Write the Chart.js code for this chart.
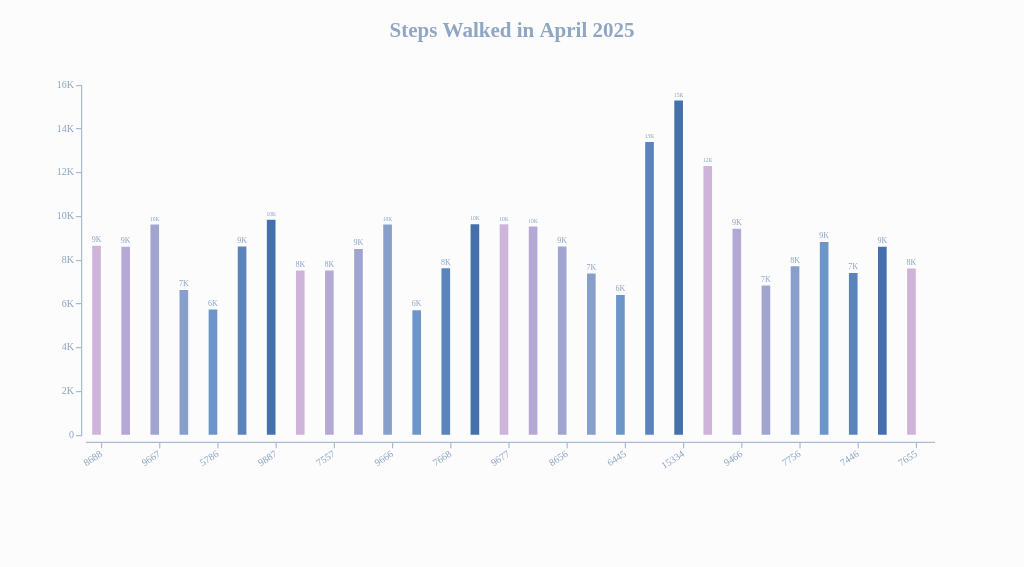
<!DOCTYPE html>
<html>
<head>
<meta charset="utf-8">
<title>Steps Walked in April 2025</title>
<script src="https://cdn.jsdelivr.net/npm/chart.js@4"></script>
<style>
	html, body {
		margin: 0;
		padding: 0;
		background: #fcfcfd;
	}
	#wrap {
		width: 1024px;
		height: 567px;
	}
</style>
</head>
<body>
<div id="wrap"><canvas id="myChart"></canvas></div>
<script>
// daily step counts, the x categories are the counts themselves
const categories = [
	'8688', '8645', '9667', '6670', '5786', '8660', '9887', '7565', '7557', '8540',
	'9666', '5750', '7668', '9680', '9677', '9575', '8656', '7420', '6445', '13440',
	'15334', '12340', '9466', '6880', '7756', '8870', '7446', '8650', '7655',
];
const steps = [
	8688, 8645, 9667, 6670, 5786, 8660, 9887, 7565, 7557, 8540,
	9666, 5750, 7668, 9680, 9677, 9575, 8656, 7420, 6445, 13440,
	15334, 12340, 9466, 6880, 7756, 8870, 7446, 8650, 7655,
];
const yTicks = [0, 2000, 4000, 6000, 8000, 10000, 12000, 14000, 16000];

const palette = ['#cfb4da', '#b4a9d5', '#a0a5d0', '#889fcb', '#6c96c8', '#5a84bb', '#4570ab'];
const textColor = '#8ea6c2';
const axisColor = '#a9bbd3';
const serif = '"Liberation Serif", "Times New Roman", serif';

const fmtK = (v) => (v === 0 ? '0' : Math.round(v / 1000) + 'K');

// d3-ish decorations: detached x axis line + value labels over bars
const decor = {
	id: 'decor',
	afterDatasetsDraw(chart) {
		const { ctx, chartArea } = chart;
		const x = chart.scales.x;
		const meta = chart.getDatasetMeta(0);
		const ay = chartArea.bottom + 7;
		ctx.save();
		ctx.strokeStyle = axisColor;
		ctx.lineWidth = 1.2;
		ctx.beginPath();
		ctx.moveTo(chartArea.left + 4, ay);
		ctx.lineTo(chartArea.right + 9, ay);
		for (let i = 0; i < categories.length; i += 2) {
			const px = x.getPixelForValue(i) + 5;
			ctx.moveTo(px, ay);
			ctx.lineTo(px, ay + 6);
		}
		ctx.stroke();

		ctx.fillStyle = textColor;
		ctx.textAlign = 'center';
		ctx.textBaseline = 'alphabetic';
		meta.data.forEach((bar, i) => {
			const txt = fmtK(steps[i]);
			const size = txt.length > 2 ? 5.5 : 8;
			ctx.font = size + 'px ' + serif;
			ctx.fillText(txt, bar.x, bar.y - 3);
		});
		ctx.restore();
	},
};

const ctx = document.getElementById('myChart').getContext('2d');
const myBarChart = new Chart(ctx, {
	type: 'bar',
	data: {
		labels: categories,
		datasets: [
			{
				label: 'Steps',
				data: steps,
				backgroundColor: steps.map((v, i) => palette[i % palette.length]),
				borderColor: 'rgba(255,255,255,0.45)',
				borderWidth: 1,
				barThickness: 10,
			},
		],
	},
	plugins: [decor],
	options: {
		responsive: true,
		maintainAspectRatio: false,
		animation: false,
		layout: {
			padding: { left: 0, right: 0, bottom: 90, top: 0 },
		},
		plugins: {
			legend: { display: false },
			tooltip: { enabled: false },
			title: {
				display: true,
				text: 'Steps Walked in April 2025',
				color: '#8fa7c3',
				font: { family: serif, size: 21, weight: 'bold' },
				padding: { top: 19, bottom: 41 },
			},
		},
		scales: {
			x: {
				border: { display: false },
				grid: { display: false },
				ticks: {
					autoSkip: false,
					maxRotation: 33,
					minRotation: 33,
					labelOffset: 5,
					padding: 5,
					color: textColor,
					font: { family: serif, size: 10 },
					callback: function (value, index) {
						return index % 2 === 0 ? categories[index] : '';
					},
				},
			},
			y: {
				min: 0,
				max: 16000,
				afterFit: (scale) => {
					scale.width = 82;
				},
				afterBuildTicks: (scale) => {
					scale.ticks = yTicks.map((v) => ({ value: v }));
				},
				border: { display: true, color: axisColor, width: 1.2 },
				grid: {
					drawOnChartArea: false,
					drawTicks: true,
					tickLength: 6,
					color: axisColor,
					lineWidth: 1.2,
				},
				ticks: {
					padding: 2,
					color: textColor,
					font: { family: serif, size: 10 },
					callback: (value) => fmtK(value),
				},
			},
			// empty right gutter so the title stays centred on the page
			gutter: {
				type: 'linear',
				position: 'right',
				min: 0,
				max: 1,
				afterFit: (scale) => {
					scale.width = 98;
				},
				border: { display: false },
				grid: { display: false },
				ticks: { display: false },
			},
		},
	},
});
</script>
</body>
</html>
